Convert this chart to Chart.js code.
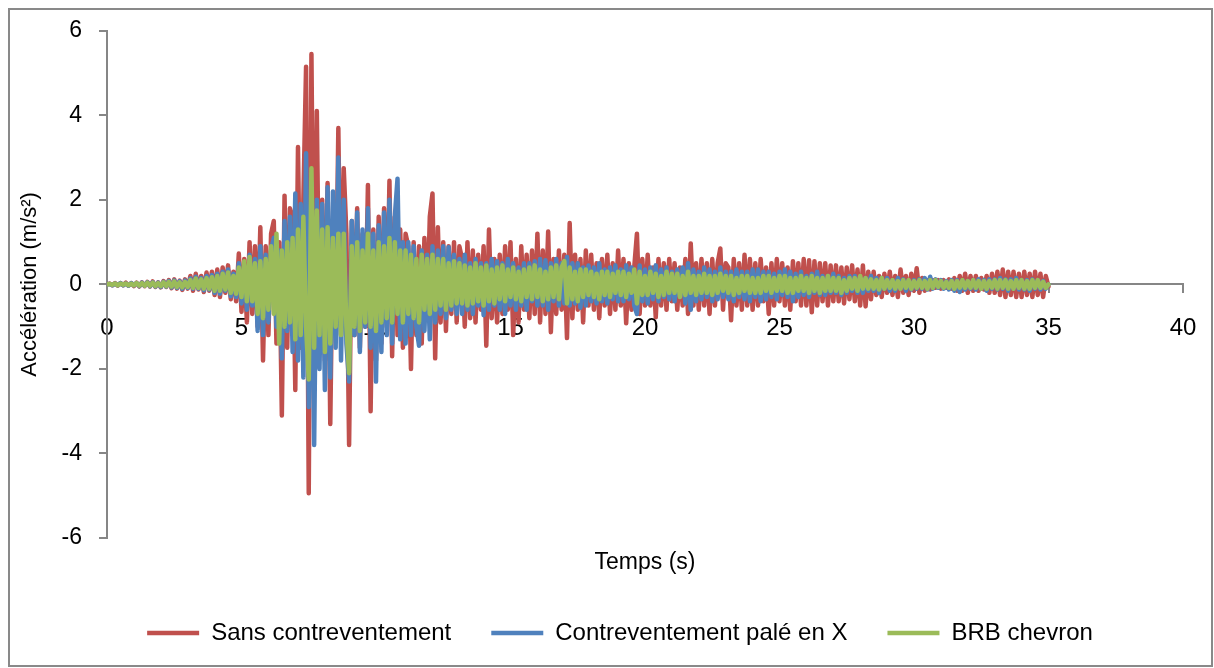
<!DOCTYPE html>
<html>
<head>
<meta charset="utf-8">
<script src="https://cdn.jsdelivr.net/npm/chart.js@4.4.1/dist/chart.umd.min.js"></script>
<style>
  html, body { margin: 0; padding: 0; background: #fff; }
  #wrap { position: relative; width: 1214px; height: 668px; }
  #frame {
    position: absolute; left: 8px; top: 8px; width: 1205px; height: 659px;
    border: 2px solid #898989; box-sizing: border-box; pointer-events: none;
  }
</style>
</head>
<body>
<div id="wrap">
  <canvas id="accChart" width="1214" height="668"></canvas>
  <div id="frame"></div>
</div>
<script>
// sampling step of the records (s), 0 -> 35 s
const dt = 0.1;

// Sans contreventement (m/s²), one row per second
const sansContrev = [0,
  0.02, -0.02, 0.03, -0.03, 0.03, -0.02, 0.04, -0.03, 0.03, -0.04,
  0.04, -0.05, 0.05, -0.04, 0.06, -0.05, 0.07, -0.06, 0.05, -0.07,
  0.08, -0.06, 0.1, -0.09, 0.12, -0.1, 0.09, -0.13, 0.12, -0.1,
  0.2, -0.15, 0.25, -0.12, 0.2, -0.18, 0.28, -0.15, 0.3, -0.25,
  0.35, -0.3, 0.4, -0.2, 0.45, -0.35, 0.3, -0.4, 0.73, -0.65,
  0.6, -0.9, 1.0, -0.7, 0.9, -1.0, 1.35, -1.8, 0.9, -1.2,
  1.2, 1.5, -1.4, 1.0, -3.1, 2.1, -1.5, 1.8, 1.6, -2.5,
  3.25, -1.5, 2.0, 5.15, -4.94, 5.45, -2.0, 4.1, -1.5, 2.0,
  -1.8, 2.4, -3.3, 1.5, -1.0, 3.7, -1.2, 2.75, 1.2, -3.8,
  1.5, -1.2, 1.8, -1.5, 1.2, -1.0, 2.35, -3.0, 1.3, -1.8,
  1.6, -1.4, 1.8, -1.0, 2.45, -1.7, 1.6, -1.2, 1.3, -1.5,
  1.2, 0.9, -2.0, 1.0, -1.2, 0.9, -1.4, 1.1, -0.8, 1.6,
  2.15, -1.75, 1.35, -0.9, 1.0, -1.1, 0.9, -0.7, 1.0, -0.9,
  0.9, 0.6, -1.0, 1.0, -0.8, 0.8, -0.9, 0.7, -0.6, 0.9,
  -1.45, 1.3, -0.8, 0.6, -0.9, 0.7, -0.7, 0.9, -0.6, 1.0,
  -1.2, 0.6, -0.9, 0.9, -0.6, 0.7, -0.8, 0.8, -0.7, 1.2,
  -0.9, 0.8, -0.7, 1.25, -1.13, 0.6, -0.7, 0.8, -0.6, 0.7,
  -1.27, 1.45, -0.8, 0.7, -0.6, 0.6, -0.9, 0.8, -0.5, 0.7,
  -0.6, 0.5, -0.8, 0.6, -0.5, 0.7, -0.7, 0.5, -0.6, 0.8,
  -0.5, 0.6, -0.92, 0.5, -0.6, 0.4, 1.2, -0.7, 0.6, -0.5,
  0.7, -0.5, 0.4, -0.78, 0.6, -0.5, 0.5, -0.6, 0.6, -0.4,
  0.5, -0.6, 0.4, -0.5, 0.6, -0.7, 0.97, -0.5, 0.5, -0.6,
  0.6, -0.5, 0.5, -0.7, 0.6, -0.5, 0.5, 0.85, -0.6, 0.5,
  0.4, -0.85, 0.6, -0.5, 0.5, -0.6, 0.7, -0.5, 0.6, -0.6,
  0.5, -0.5, 0.6, -0.4, 0.4, -0.7, 0.5, -0.5, 0.6, -0.4,
  0.5, -0.5, 0.4, -0.6, 0.55, -0.4, 0.5, -0.5, 0.6, -0.5,
  0.57, -0.66, 0.55, -0.5, 0.5, -0.4, 0.5, -0.5, 0.45, -0.4,
  0.45, -0.4, 0.4, -0.45, 0.4, -0.35, 0.45, -0.4, 0.35, -0.5,
  0.45, -0.52, 0.3, -0.35, 0.3, -0.25, 0.2, -0.3, 0.25, -0.2,
  0.3, -0.25, 0.2, -0.3, 0.35, -0.2, 0.2, -0.25, 0.25, -0.15,
  0.38, -0.2, 0.15, -0.15, 0.1, -0.12, 0.1, -0.08, 0.1, -0.1,
  0.1, -0.08, 0.12, -0.1, 0.15, -0.15, 0.2, -0.15, 0.25, -0.2,
  0.2, -0.15, 0.2, -0.15, 0.15, -0.12, 0.2, -0.2, 0.25, -0.2,
  0.3, -0.25, 0.35, -0.3, 0.3, -0.25, 0.3, -0.3, 0.25, -0.3,
  0.3, -0.25, 0.25, -0.3, 0.3, -0.25, 0.25, -0.3, 0.2, -0.05
];

// Contreventement palé en X (m/s²)
const paleEnX = [0,
  0.01, -0.02, 0.02, -0.02, 0.03, -0.02, 0.02, -0.03, 0.03, -0.02,
  0.03, -0.04, 0.04, -0.03, 0.05, -0.04, 0.05, -0.05, 0.04, -0.06,
  0.06, -0.05, 0.08, -0.07, 0.09, -0.08, 0.07, -0.1, 0.09, -0.08,
  0.14, -0.1, 0.18, -0.1, 0.15, -0.14, 0.2, -0.12, 0.22, -0.2,
  0.25, -0.22, 0.3, -0.15, 0.35, -0.28, 0.25, -0.3, 0.5, -0.45,
  0.45, -0.6, 0.7, -0.5, 0.6, -1.1, 0.9, -1.2, 0.7, -0.9,
  0.8, 1.1, -1.0, 0.8, -1.75, 1.5, -1.1, 1.6, -1.6, 2.15,
  -1.8, 1.9, -2.2, 3.1, -2.9, 2.4, -3.8, 2.0, -2.0, 1.9,
  -2.5, 2.3, -2.2, 2.2, -1.5, 3.0, -1.8, 2.0, -1.4, -2.3,
  1.5, -1.2, 1.7, -1.6, 1.3, -1.0, 1.8, -1.5, 1.2, -2.3,
  1.4, -1.6, 1.7, -1.2, 2.0, -1.4, 1.6, 2.5, -1.3, 1.0,
  -1.4, 1.0, -1.2, 0.9, -1.0, -1.45, 0.8, -1.1, 0.7, -1.3,
  0.9, -0.9, 0.8, -0.7, 0.9, -0.8, 0.88, -0.6, 0.7, -0.7,
  0.6, -0.7, 0.7, -0.6, 0.5, -0.7, 0.6, -0.5, 0.5, -0.73,
  0.5, -0.6, 0.6, -0.5, 0.55, -0.6, 0.5, -0.7, 0.6, -0.5,
  0.5, -0.6, 0.4, -0.5, 0.5, -0.6, 0.5, -0.4, 0.55, -0.5,
  0.6, -0.5, 0.57, -0.6, 0.5, -0.4, 0.6, -0.5, 0.5, -0.45,
  0.65, -0.5, 0.5, -0.45, 0.5, -0.55, 0.4, -0.5, 0.45, -0.4,
  0.4, -0.45, 0.5, -0.4, 0.35, -0.45, 0.4, -0.35, 0.45, -0.4,
  0.35, -0.4, 0.45, -0.35, 0.4, -0.5, -0.7, 0.45, -0.4, 0.35,
  -0.45, 0.4, -0.35, 0.45, -0.4, 0.35, -0.3, 0.4, -0.35, 0.3,
  -0.4, 0.35, -0.3, 0.4, -0.45, 0.5, -0.6, 0.35, -0.4, 0.3,
  -0.35, 0.4, -0.3, 0.35, -0.4, 0.3, -0.35, 0.4, -0.3, 0.3,
  -0.35, 0.3, -0.4, 0.35, -0.3, 0.3, -0.35, 0.3, -0.4, 0.35,
  -0.3, 0.35, -0.4, 0.3, -0.35, 0.3, -0.3, 0.25, -0.35, 0.3,
  -0.25, 0.35, -0.3, 0.3, -0.4, 0.25, -0.3, 0.3, -0.25, 0.2,
  -0.3, 0.25, -0.2, 0.3, -0.25, 0.2, -0.25, 0.2, -0.2, 0.25,
  -0.2, 0.2, -0.25, 0.15, -0.2, 0.2, -0.15, 0.2, -0.2, 0.15,
  -0.2, 0.15, -0.15, 0.2, -0.15, 0.15, -0.2, 0.15, -0.1, 0.15,
  -0.15, 0.1, -0.15, 0.15, -0.1, 0.12, -0.15, 0.1, -0.12, 0.1,
  -0.1, 0.12, -0.1, 0.15, -0.12, 0.18, -0.1, 0.12, -0.08, 0.1,
  -0.1, 0.08, -0.12, 0.1, -0.15, 0.1, -0.18, 0.1, -0.12, 0.08,
  -0.1, 0.1, -0.12, 0.12, -0.1, 0.1, -0.15, 0.12, -0.1, 0.12,
  -0.12, 0.15, -0.1, 0.12, -0.15, 0.12, -0.1, 0.15, -0.12, 0.1,
  -0.12, 0.1, -0.15, 0.12, -0.1, 0.1, -0.12, 0.08, -0.1, 0.0
];

// BRB chevron (m/s²)
const brbChevron = [0,
  0.01, -0.01, 0.02, -0.02, 0.02, -0.01, 0.02, -0.02, 0.02, -0.02,
  0.03, -0.03, 0.03, -0.03, 0.04, -0.03, 0.04, -0.04, 0.03, -0.04,
  0.05, -0.04, 0.06, -0.05, 0.07, -0.06, 0.05, -0.07, 0.06, -0.06,
  0.1, -0.08, 0.14, -0.08, 0.12, -0.1, 0.15, -0.1, 0.17, -0.15,
  0.2, -0.15, 0.25, -0.12, 0.28, -0.2, 0.2, -0.22, 0.4, -0.3,
  0.55, -0.4, 0.65, -0.4, 0.5, -0.7, 0.55, -0.8, 0.6, -0.6,
  0.9, -0.7, 1.2, -1.4, 0.8, -1.0, 1.0, -0.9, 1.1, -1.3,
  1.3, -1.2, 1.6, -1.0, -2.25, 2.75, -1.5, 1.75, -1.2, 1.3,
  -1.6, 1.35, -1.4, 1.1, -1.0, 1.2, -1.2, 1.2, -1.0, -2.1,
  0.9, -1.0, 1.0, -1.1, 0.8, -0.9, 1.2, -1.0, 0.8, -1.1,
  1.0, -0.9, 0.9, -0.8, 1.1, -0.9, 1.0, -0.7, 0.8, -0.9,
  0.8, -0.7, 0.7, -0.8, 0.6, -0.9, 0.7, -0.6, 0.6, -0.7,
  0.7, -0.6, 0.6, -0.5, 0.6, -0.6, 0.5, -0.5, 0.55, -0.45,
  0.5, -0.45, 0.45, -0.5, 0.4, -0.45, 0.5, -0.4, 0.4, -0.5,
  0.45, -0.4, 0.35, -0.45, 0.4, -0.35, 0.45, -0.4, 0.35, -0.3,
  0.4, -0.35, 0.3, -0.4, 0.35, -0.3, 0.4, -0.35, 0.45, -0.3,
  0.35, -0.4, 0.3, -0.35, 0.4, -0.3, 0.45, -0.35, 0.4, 0.55,
  -0.45, 0.4, -0.35, 0.3, -0.4, 0.35, -0.3, 0.35, -0.25, 0.3,
  -0.3, 0.25, -0.35, 0.3, -0.25, 0.3, -0.3, 0.25, -0.2, 0.3,
  -0.25, 0.3, -0.3, 0.25, -0.2, 0.35, -0.45, 0.3, -0.25, 0.2,
  -0.25, 0.3, -0.2, 0.25, -0.3, 0.2, -0.25, 0.3, -0.2, 0.25,
  -0.2, 0.25, -0.3, 0.2, -0.25, 0.3, -0.2, 0.2, -0.25, 0.2,
  -0.2, 0.25, -0.2, 0.2, -0.25, 0.2, -0.2, 0.25, -0.15, 0.2,
  -0.2, 0.2, -0.25, 0.15, -0.2, 0.2, -0.15, 0.2, -0.2, 0.15,
  -0.2, 0.15, -0.2, 0.2, -0.15, 0.2, -0.2, 0.15, -0.15, 0.2,
  -0.15, 0.2, -0.2, 0.15, -0.2, 0.15, -0.15, 0.2, -0.15, 0.15,
  -0.2, 0.2, -0.15, 0.15, -0.2, 0.15, -0.15, 0.2, -0.15, 0.15,
  -0.15, 0.15, -0.2, 0.1, -0.15, 0.15, -0.1, 0.15, -0.15, 0.2,
  -0.1, 0.15, -0.1, 0.12, -0.1, 0.1, -0.12, 0.15, -0.1, 0.1,
  -0.08, 0.1, -0.1, 0.08, -0.1, 0.1, -0.08, 0.1, -0.1, 0.08,
  -0.08, 0.1, -0.08, 0.08, -0.1, 0.1, -0.08, 0.1, -0.06, 0.08,
  -0.08, 0.06, -0.08, 0.08, -0.1, 0.08, -0.08, 0.1, -0.08, 0.08,
  -0.08, 0.1, -0.08, 0.08, -0.1, 0.08, -0.1, 0.08, -0.08, 0.1,
  -0.1, 0.1, -0.08, 0.1, -0.1, 0.08, -0.1, 0.1, -0.08, 0.1,
  -0.1, 0.08, -0.1, 0.1, -0.08, 0.1, -0.08, 0.06, -0.08, 0.0
];

const seriesNames = ['Sans contreventement', 'Contreventement palé en X', 'BRB chevron'];
const seriesColors = ['#C0504D', '#4F81BD', '#9BBB59'];

// time axis of the records
const time = sansContrev.map((_, i) => +(i * dt).toFixed(1));

const axisGray = '#868686';
const fontFamily = '"Liberation Sans", Arial, sans-serif';

function makeDataset(idx, values, order) {
    return {
        label: seriesNames[idx],
        data: values,
        xAxisID: 'x',
        borderColor: seriesColors[idx],
        backgroundColor: seriesColors[idx],
        borderWidth: 4.5,
        borderCapStyle: 'round',
        borderJoinStyle: 'round',
        pointRadius: 0,
        tension: 0,
        fill: false,
        order: order // green drawn on top, red at the back
    };
}

const ctx = document.getElementById('accChart').getContext('2d');

new Chart(ctx, {
    type: 'line',
    data: {
        labels: time,
        datasets: [
            makeDataset(0, sansContrev, 3),
            makeDataset(1, paleEnX, 2),
            makeDataset(2, brbChevron, 1)
        ]
    },
    options: {
        responsive: false,
        animation: false,
        devicePixelRatio: 1,
        layout: { padding: { left: 57, right: 31, top: 30, bottom: 13 } },
        plugins: {
            tooltip: { enabled: false },
            legend: {
                position: 'bottom',
                labels: {
                    usePointStyle: true,
                    pointStyle: 'line',
                    pointStyleWidth: 52,
                    padding: 40,
                    color: '#000',
                    font: { family: fontFamily, size: 24 },
                    sort: (a, b) => a.datasetIndex - b.datasetIndex
                }
            }
        },
        scales: {
            x: {
                type: 'linear',
                position: { y: 0 },
                min: 0,
                max: 40,
                ticks: {
                    stepSize: 5,
                    color: '#000',
                    padding: 22,
                    maxRotation: 0,
                    font: { family: fontFamily, size: 24 }
                },
                grid: {
                    drawOnChartArea: false,
                    tickLength: 8,
                    color: axisGray,
                    lineWidth: 2
                },
                border: { color: axisGray, width: 2 },
                // the labels fit inside the layout padding already
                afterFit: scale => { scale.paddingLeft = 0; scale.paddingRight = 0; }
            },
            x2: {
                type: 'linear',
                position: 'bottom',
                min: 0,
                max: 40,
                ticks: { display: false },
                grid: { display: false },
                border: { display: false },
                title: {
                    display: true,
                    text: 'Temps (s)',
                    color: '#000',
                    font: { family: fontFamily, size: 23 },
                    padding: { top: 0, bottom: 5 }
                },
                afterFit: scale => { scale.height = 43; }
            },
            y: {
                type: 'linear',
                position: 'left',
                min: -6,
                max: 6,
                ticks: {
                    stepSize: 2,
                    color: '#000',
                    padding: 17,
                    font: { family: fontFamily, size: 23 }
                },
                grid: {
                    drawOnChartArea: false,
                    tickLength: 8,
                    color: axisGray,
                    lineWidth: 2
                },
                border: { color: axisGray, width: 2 },
                title: {
                    display: true,
                    text: 'Accélération (m/s²)',
                    color: '#000',
                    font: { family: fontFamily, size: 22 },
                    padding: { top: -40, bottom: 0 }
                },
                afterFit: scale => { scale.width = 50; }
            }
        }
    }
});
</script>
</body>
</html>
